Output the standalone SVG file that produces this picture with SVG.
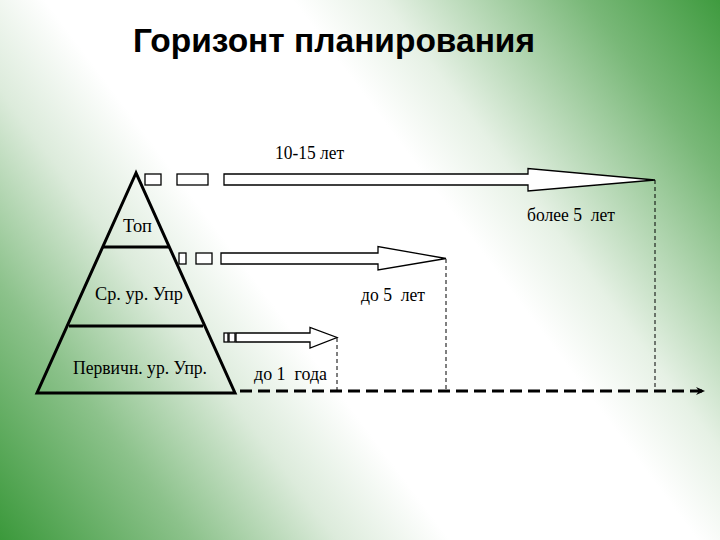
<svg xmlns="http://www.w3.org/2000/svg" width="720" height="540" viewBox="0 0 720 540">
<defs>
<linearGradient id="bg" gradientUnits="userSpaceOnUse" x1="720" y1="0" x2="0" y2="540">
<stop offset="0" stop-color="#3f9b3f"/>
<stop offset="0.12" stop-color="#79b878"/>
<stop offset="0.3" stop-color="#e6f1e5"/>
<stop offset="0.38" stop-color="#ffffff"/>
<stop offset="0.6" stop-color="#ffffff"/>
<stop offset="0.7" stop-color="#dcebdb"/>
<stop offset="0.83" stop-color="#8cc28b"/>
<stop offset="1" stop-color="#3b993b"/>
</linearGradient>
<marker id="ah" markerWidth="10" markerHeight="10" refX="8" refY="5" orient="auto" markerUnits="userSpaceOnUse">
<path d="M0,1 L9,5 L0,9 L3,5 Z" fill="#000"/>
</marker>
<style>
.t{font-family:'Liberation Serif','DejaVu Serif',serif;font-size:18px;fill:#000}
.ttl{font-family:'Liberation Sans',Arial,sans-serif;font-size:33px;font-weight:bold;fill:#000}
.sh{fill:#fff;stroke:#000;stroke-width:1.3}
.ln{stroke:#000;stroke-width:3;fill:none}
.vd{stroke:#000;stroke-width:1;stroke-dasharray:4,3;fill:none}
.ax{stroke:#000;stroke-width:3;stroke-dasharray:12,6;fill:none}
</style>
</defs>
<rect width="720" height="540" fill="url(#bg)"/>
<text class="ttl" x="133" y="52" textLength="402" lengthAdjust="spacingAndGlyphs">Горизонт планирования</text>

<g id="pyramid">
<path class="ln" d="M136,173 L37,393 L235,393 Z"/>
<line class="ln" x1="103" y1="247" x2="169" y2="247"/>
<line class="ln" x1="69" y1="326" x2="203" y2="326"/>
<text class="t" x="123" y="232" textLength="29" lengthAdjust="spacingAndGlyphs">Топ</text>
<text class="t" x="95" y="300" textLength="88" lengthAdjust="spacingAndGlyphs">Ср. ур. Упр</text>
<text class="t" x="73" y="374" textLength="134" lengthAdjust="spacingAndGlyphs">Первичн. ур. Упр.</text>
</g>

<g id="arrow-top">
<rect class="sh" x="145" y="174" width="16" height="11"/>
<rect class="sh" x="177" y="174" width="31" height="11"/>
<path class="sh" d="M224,174 L528,174 L528,168.5 L655,180 L528,191 L528,185 L224,185 Z"/>
</g>
<g id="arrow-mid">
<rect class="sh" x="179" y="253" width="7" height="11"/>
<rect class="sh" x="196" y="253" width="16" height="11"/>
<path class="sh" d="M221,253 L378,253 L378,246.5 L446,258.5 L378,270 L378,264 L221,264 Z"/>
</g>
<g id="arrow-low">
<rect class="sh" x="224" y="333" width="4" height="9"/>
<rect class="sh" x="229" y="333" width="6" height="9"/>
<path class="sh" d="M236,333 L310,333 L310,327.5 L337,337.5 L310,348 L310,342 L236,342 Z"/>
</g>

<g id="connectors">
<line class="vd" x1="655" y1="180" x2="655" y2="390"/>
<line class="vd" x1="446" y1="259" x2="446" y2="390"/>
<line class="vd" x1="337" y1="338" x2="337" y2="390"/>
<line class="ax" x1="240" y1="391" x2="704" y2="391" marker-end="url(#ah)"/>
</g>

<g id="labels">
<text class="t" x="275" y="159" textLength="69" lengthAdjust="spacingAndGlyphs">10-15 лет</text>
<text class="t" x="527" y="221" xml:space="preserve" textLength="88" lengthAdjust="spacingAndGlyphs">более 5  лет</text>
<text class="t" x="361" y="301" xml:space="preserve" textLength="64" lengthAdjust="spacingAndGlyphs">до 5  лет</text>
<text class="t" x="254" y="380" xml:space="preserve" textLength="73" lengthAdjust="spacingAndGlyphs">до 1  года</text>
</g>
</svg>
